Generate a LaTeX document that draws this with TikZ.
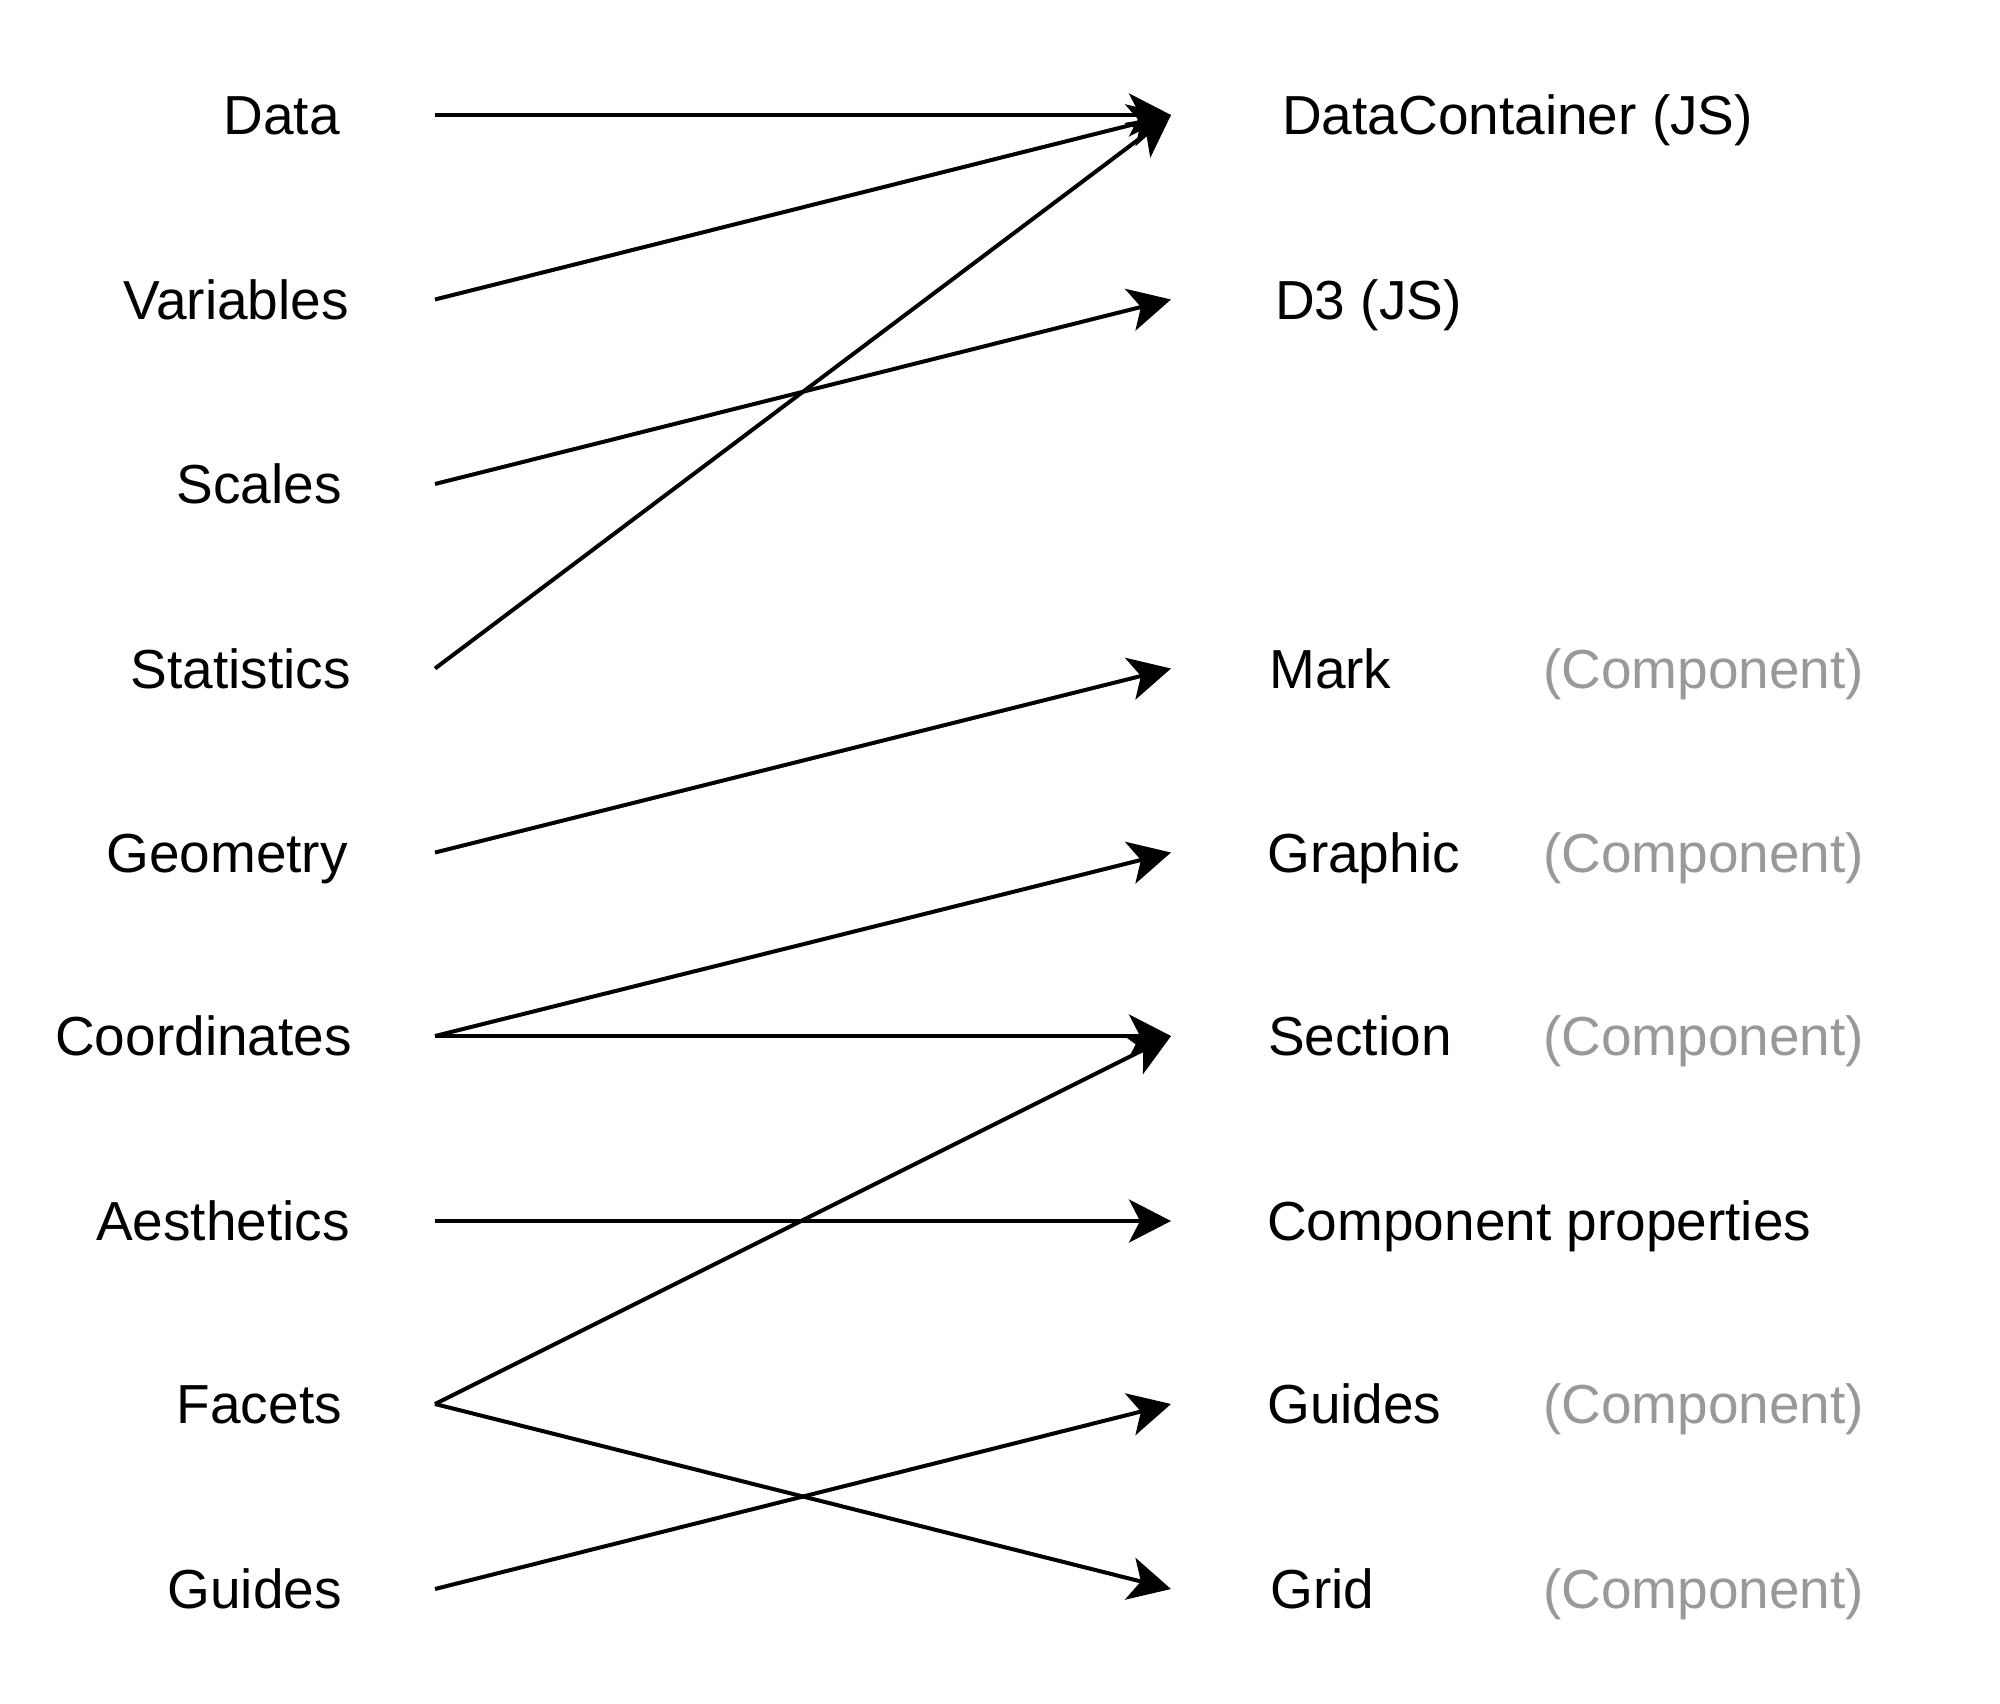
\documentclass[tikz,border=0pt]{standalone}
\usepackage{fontspec}
\setmainfont{Liberation Sans}
\usetikzlibrary{arrows.meta}
\definecolor{compgray}{HTML}{999999}
\begin{document}
\begin{tikzpicture}[x=1pt,y=-1pt,
  lbl/.style={inner sep=0pt, font=\fontsize{55}{66}\selectfont},
  leftlbl/.style={lbl, anchor=base east},
  rightlbl/.style={lbl, anchor=base west},
  complbl/.style={lbl, anchor=base west, text=compgray},
  conn/.style={line width=4pt, -{Stealth[length=42pt, width=43pt, inset=11pt]}}]
\useasboundingbox (0,0) rectangle (2000,1704);
% row y positions
\def\ya{115}\def\yb{299.5}\def\yc{484}\def\yd{668.5}\def\ye{852.5}
\def\yf{1036}\def\yg{1221}\def\yh{1404}\def\yi{1589}
% left labels
\node[leftlbl] (lData) at (340,\ya+19.7) {Data};
\node[leftlbl] (lVar) at (349,\yb+19.7) {Variables};
\node[leftlbl] (lSca) at (342,\yc+19.7) {Scales};
\node[leftlbl] (lSta) at (351,\yd+19.7) {Statistics};
\node[leftlbl] (lGeo) at (348,\ye+19.7) {Geometry};
\node[leftlbl] (lCoo) at (352,\yf+19.7) {Coordinates};
\node[leftlbl] (lAes) at (350,\yg+19.7) {Aesthetics};
\node[leftlbl] (lFac) at (342,\yh+19.7) {Facets};
\node[leftlbl] (lGui) at (342,\yi+19.7) {Guides};
% right labels
\node[rightlbl] (rDC) at (1282,\ya+19.7) {DataContainer (JS)};
\node[rightlbl] (rD3) at (1275,\yb+19.7) {D3 (JS)};
\node[rightlbl] (rMark) at (1269,\yd+19.7) {Mark};
\node[rightlbl] (rGra) at (1267,\ye+19.7) {Graphic};
\node[rightlbl] (rSec) at (1268,\yf+19.7) {Section};
\node[rightlbl] (rCP) at (1267,\yg+19.7) {Component properties};
\node[rightlbl] (rGui) at (1267,\yh+19.7) {Guides};
\node[rightlbl] (rGrid) at (1270,\yi+19.7) {Grid};
\node[complbl] (cMark) at (1543,\yd+19.7) {(Component)};
\node[complbl] (cGra) at (1543,\ye+19.7) {(Component)};
\node[complbl] (cSec) at (1543,\yf+19.7) {(Component)};
\node[complbl] (cGui) at (1543,\yh+19.7) {(Component)};
\node[complbl] (cGrid) at (1543,\yi+19.7) {(Component)};
% connector end points
\coordinate (sData) at (435,\ya);
\coordinate (sVar) at (435,\yb);
\coordinate (sSca) at (435,\yc);
\coordinate (sSta) at (435,\yd);
\coordinate (sGeo) at (435,\ye);
\coordinate (sCoo) at (435,\yf);
\coordinate (sAes) at (435,\yg);
\coordinate (sFac) at (435,\yh);
\coordinate (sGui) at (435,\yi);
\coordinate (tDC) at (1171,\ya);
\coordinate (tD3) at (1171,\yb);
\coordinate (tMark) at (1171,\yd);
\coordinate (tGra) at (1171,\ye);
\coordinate (tSec) at (1171,\yf);
\coordinate (tCP) at (1171,\yg);
\coordinate (tGui) at (1171,\yh);
\coordinate (tGrid) at (1171,\yi);
% connectors
\draw[conn] (sData) -- (tDC);
\draw[conn] (sVar) -- (tDC);
\draw[conn] (sSta) -- (tDC);
\draw[conn] (sSca) -- (tD3);
\draw[conn] (sGeo) -- (tMark);
\draw[conn] (sCoo) -- (tGra);
\draw[conn] (sCoo) -- (tSec);
\draw[conn] (sFac) -- (tSec);
\draw[conn] (sAes) -- (tCP);
\draw[conn] (sFac) -- (tGrid);
\draw[conn] (sGui) -- (tGui);
\end{tikzpicture}
\end{document}
